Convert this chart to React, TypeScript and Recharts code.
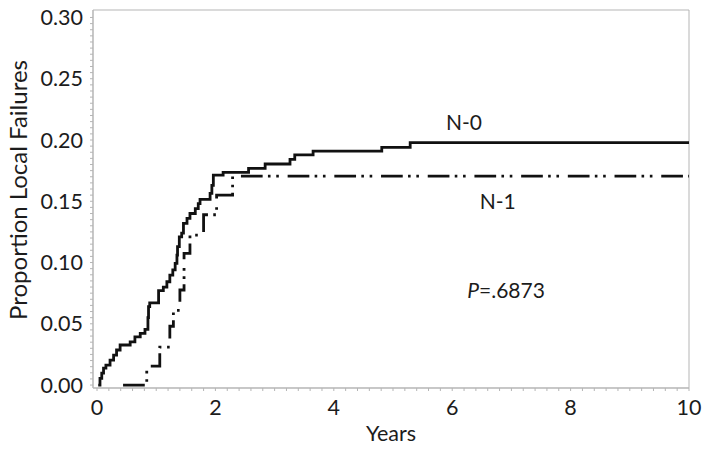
import React from 'react';
import { LineChart, Line, XAxis, YAxis, ReferenceArea, ReferenceDot, Label } from 'recharts';

// cumulative local failure (years, proportion)
const n0Years = [0.02, 0.05, 0.08, 0.11, 0.15, 0.22, 0.28, 0.33, 0.39, 0.56, 0.64, 0.73, 0.81, 0.86, 0.87, 0.89, 1.04, 1.12, 1.18, 1.23, 1.28, 1.32, 1.35, 1.36, 1.39, 1.43, 1.46, 1.52, 1.57, 1.66, 1.71, 1.74, 1.91, 1.94, 1.965, 2.13, 2.56, 2.84, 3.26, 3.34, 3.65, 4.81, 5.29, 10];
const n0Fail = [0, 0.0055, 0.0098, 0.0139, 0.0163, 0.0204, 0.0245, 0.0286, 0.0327, 0.0353, 0.0394, 0.0422, 0.0455, 0.055, 0.064, 0.067, 0.077, 0.08, 0.0843, 0.0898, 0.094, 0.0993, 0.106, 0.113, 0.121, 0.124, 0.132, 0.136, 0.14, 0.144, 0.148, 0.1516, 0.1565, 0.163, 0.1714, 0.1736, 0.1769, 0.1804, 0.1842, 0.1878, 0.191, 0.194, 0.1978, 0.1978];

const n1Years = [0.44, 0.84, 1.06, 1.23, 1.29, 1.4, 1.47, 1.57, 1.8, 2.02, 2.29, 10];
const n1Fail = [0, 0.0155, 0.031, 0.048, 0.061, 0.0776, 0.1075, 0.1224, 0.139, 0.155, 0.1706, 0.1706];

const yearTicks = Array.from({ length: 51 }, (_, i) => i * 0.2);
const failTicks = Array.from({ length: 61 }, (_, i) => i * 0.005);

const n0Data = n0Years.map((t, i) => ({ t, p: n0Fail[i] }));
const n1Data = n1Years.map((t, i) => ({ t, p: n1Fail[i] }));

const FONT = 'Lato, "Open Sans", sans-serif';
const TEXT = '#1c1c1c';
const FRAME = '#b5b5b5';

const fmtYear = (v: number) => (Math.abs(v / 2 - Math.round(v / 2)) < 1e-6 ? String(Math.round(v)) : '');
const fmtFail = (v: number) => (Math.abs(v * 20 - Math.round(v * 20)) < 1e-6 ? v.toFixed(2) : '');

const Note = ({ cx, cy, children }: any) => (
    <text x={cx} y={cy} dy={7} textAnchor="middle" fill={TEXT} fontSize={21} fontFamily={FONT}>
        {children}
    </text>
);

const App = () => {
    return (
        <div style={{ position: 'absolute', left: 0, top: 0, width: 706, height: 451, background: '#fff' }}>
            <LineChart width={706} height={451} margin={{ top: 10, right: 17, bottom: 0, left: 0 }}>
                <XAxis
                    type="number"
                    dataKey="t"
                    domain={[-0.068, 10]}
                    allowDataOverflow
                    ticks={yearTicks}
                    interval={0}
                    tickFormatter={fmtYear}
                    height={63}
                    tickSize={3}
                    tickMargin={9}
                    stroke={FRAME}
                    tick={{ fill: TEXT, fontSize: 21.5, fontFamily: FONT }}
                >
                    <Label
                        content={(props: any) => {
                            const vb = props.viewBox || { x: 93, y: 388, width: 596, height: 63 };
                            return (
                                <text x={vb.x + vb.width / 2} y={441} textAnchor="middle" fill={TEXT} fontSize={21.5} fontFamily={FONT}>
                                    Years
                                </text>
                            );
                        }}
                    />
                </XAxis>
                <YAxis
                    type="number"
                    domain={[-0.0024, 0.3061]}
                    allowDataOverflow
                    ticks={failTicks}
                    interval={0}
                    tickFormatter={fmtFail}
                    width={93}
                    tickSize={3}
                    tickMargin={7}
                    stroke={FRAME}
                    tick={{ fill: TEXT, fontSize: 21.5, fontFamily: FONT }}
                >
                    <Label
                        content={(props: any) => {
                            const vb = props.viewBox || { x: 0, y: 10, width: 93, height: 378 };
                            const cx = 19;
                            const cy = vb.y + vb.height / 2 - 9;
                            return (
                                <text
                                    x={cx}
                                    y={cy}
                                    transform={`rotate(-90 ${cx} ${cy})`}
                                    dy={8}
                                    textAnchor="middle"
                                    fill={TEXT}
                                    fontSize={24}
                                    fontFamily={FONT}
                                >
                                    Proportion Local Failures
                                </text>
                            );
                        }}
                    />
                </YAxis>
                <ReferenceArea x1={-0.068} x2={10} y1={-0.0024} y2={0.3061} fill="none" stroke={FRAME} strokeWidth={1} ifOverflow="visible" />
                <Line
                    data={n0Data}
                    dataKey="p"
                    type="stepAfter"
                    stroke="#111"
                    strokeWidth={2.8}
                    dot={false}
                    isAnimationActive={false}
                />
                <Line
                    data={n1Data}
                    dataKey="p"
                    type="stepAfter"
                    stroke="#111"
                    strokeWidth={2.8}
                    strokeDasharray="21.7 5.3 2.6 5.7 2.6 8.8"
                    dot={false}
                    isAnimationActive={false}
                />
                <ReferenceDot x={6.2} y={0.2139} r={1} ifOverflow="visible" shape={(p: any) => <Note cx={p.cx} cy={p.cy}>N-0</Note>} />
                <ReferenceDot x={6.77} y={0.1496} r={1} ifOverflow="visible" shape={(p: any) => <Note cx={p.cx} cy={p.cy}>N-1</Note>} />
                <ReferenceDot
                    x={6.91}
                    y={0.0767}
                    r={1}
                    ifOverflow="visible"
                    shape={(p: any) => (
                        <Note cx={p.cx} cy={p.cy}>
                            <tspan fontStyle="italic">P</tspan>=.6873
                        </Note>
                    )}
                />
            </LineChart>
        </div>
    );
};

export default App;
